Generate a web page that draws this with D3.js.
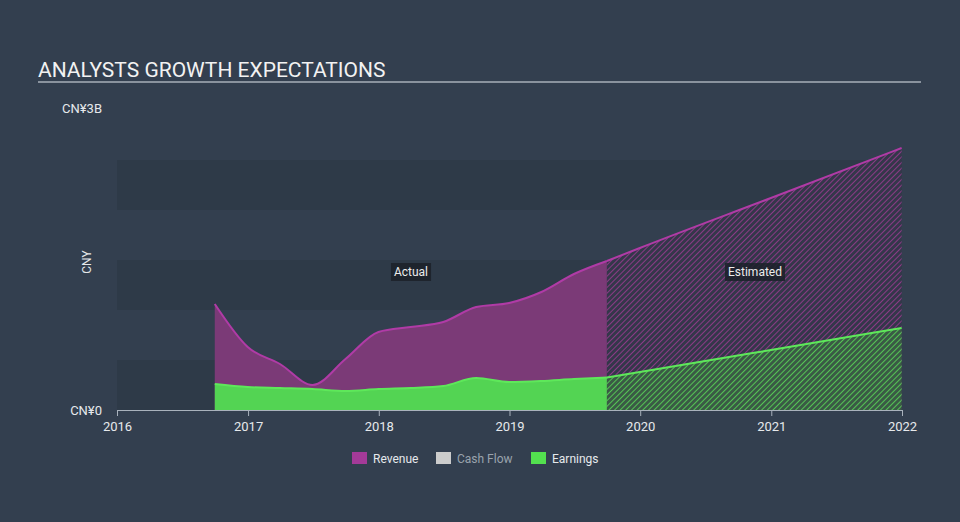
<!DOCTYPE html>
<html><head><meta charset="utf-8">
<script src="https://cdn.jsdelivr.net/npm/d3@7"></script>
<style>
html,body{margin:0;padding:0;background:#333f4f;}
svg{display:block;font-family:Roboto,"Noto Sans",sans-serif;}
</style></head>
<body>
<svg id="chart" width="960" height="522"></svg>
<script>
// Data (values in CNY billions)
const actualDates = ["2016-09-30","2016-12-31","2017-03-31","2017-06-30","2017-09-30","2017-12-31","2018-03-31","2018-06-30","2018-09-30","2018-12-31","2019-03-31","2019-06-30","2019-09-30"];
const actualRevenue = [1.06,0.63,0.46,0.25,0.51,0.78,0.83,0.88,1.03,1.07,1.18,1.36,1.49];
const actualEarnings = [0.26,0.23,0.22,0.21,0.19,0.21,0.22,0.24,0.32,0.28,0.29,0.31,0.325];
const estDates = ["2019-09-30","2019-12-31","2020-12-31","2021-12-31"];
const estRevenue = [1.49,1.62,2.12,2.62];
const estEarnings = [0.325,0.38,0.60,0.82];
const xTicks = [2016,2017,2018,2019,2020,2021,2022];
const yTickLabels = ["CN¥0","CN¥3B"];
const legendItems = ["Revenue","Cash Flow","Earnings"];

const svg=d3.select("#chart");
const parse=d3.timeParse("%Y-%m-%d");
const x=d3.scaleTime().domain([new Date(2016,0,1),new Date(2022,0,1)]).range([117,902]);
const y=d3.scaleLinear().domain([0,3]).range([410,110]);

const revColor="#b03ba6", revFill="#7b3a77", earnColor="#5ee85a", earnFill="#53d453";

// bands (only the darker ones are visible)
const bandVals=[0,1,2];
svg.selectAll("rect.band").data(bandVals).enter().append("rect")
  .attr("x",x.range()[0]).attr("width",x.range()[1]-x.range()[0])
  .attr("y",d=>y(d+0.5)).attr("height",d=>y(d)-y(d+0.5))
  .attr("fill","#2e3a48");

// patterns
const defs=svg.append("defs");
function hatch(id,color,bg){
  const p=defs.append("pattern").attr("id",id).attr("patternUnits","userSpaceOnUse")
    .attr("width",4).attr("height",4).attr("patternTransform","rotate(45)");
  p.append("rect").attr("width",4).attr("height",4).attr("fill",bg);
  p.append("line").attr("x1",0).attr("y1",0).attr("x2",0).attr("y2",4).attr("stroke",color).attr("stroke-width",2);
}
hatch("hRev","#8b3a86","#34374a");
hatch("hEarn","#55c455","#3a5a45");

const act=actualDates.map((d,i)=>({d:parse(d),r:actualRevenue[i],e:actualEarnings[i]}));
const est=estDates.map((d,i)=>({d:parse(d),r:estRevenue[i],e:estEarnings[i]}));

const curve=d3.curveMonotoneX;
const area=(k)=>d3.area().x(d=>x(d.d)).y0(y(0)).y1(d=>y(d[k])).curve(curve);
const line=(k)=>d3.line().x(d=>x(d.d)).y(d=>y(d[k])).curve(curve);

svg.append("path").datum(act).attr("d",area("r")).attr("fill",revFill);
svg.append("path").datum(est).attr("d",area("r")).attr("fill","url(#hRev)");
svg.append("path").datum(act).attr("d",area("e")).attr("fill",earnFill);
svg.append("path").datum(est).attr("d",area("e")).attr("fill","url(#hEarn)");
[act,est].forEach(ds=>{
  svg.append("path").datum(ds).attr("d",line("r")).attr("fill","none").attr("stroke",revColor).attr("stroke-width",2);
  svg.append("path").datum(ds).attr("d",line("e")).attr("fill","none").attr("stroke",earnColor).attr("stroke-width",2);
});

// x axis
const xAxis=d3.axisBottom(x).tickValues(xTicks.map(t=>new Date(t,0,1))).tickFormat(d3.timeFormat("%Y")).tickSizeOuter(0).tickSize(6);
const gx=svg.append("g").attr("transform","translate(0,410)").call(xAxis);
gx.select(".domain").attr("stroke","#a9b2bc");
gx.selectAll(".tick line").attr("stroke","#a9b2bc");
gx.selectAll(".tick text").attr("fill","#e6e9ec").attr("font-size",13).attr("dy","0.9em").attr("font-family","Roboto,sans-serif");

// y labels
svg.selectAll("text.ylab").data([0,3]).enter().append("text")
  .attr("x",102).attr("y",d=>d===0?y(d)+4.5:y(d)+2.5).attr("text-anchor","end")
  .attr("fill","#e6e9ec").attr("font-size",13).text((d,i)=>yTickLabels[i]);
svg.append("text").attr("transform","translate(91,262) rotate(-90)").attr("text-anchor","middle")
  .attr("fill","#e6e9ec").attr("font-size",12).text("CNY");

// title
svg.append("text").attr("x",38).attr("y",77).attr("fill","#f2f2f2").attr("font-size",21).text("ANALYSTS GROWTH EXPECTATIONS");
svg.append("line").attr("x1",38).attr("x2",921).attr("y1",82).attr("y2",82).attr("stroke","#a8b0b8").attr("stroke-width",1.5);

// actual / estimated labels
function tag(cx,cy,t){
  const g=svg.append("g");
  const tx=g.append("text").attr("x",cx).attr("y",cy+4).attr("text-anchor","middle").attr("fill","#ececec").attr("font-size",12).text(t);
  const b=tx.node().getBBox();
  g.insert("rect","text").attr("x",b.x-3).attr("y",cy-9).attr("width",b.width+6).attr("height",18).attr("fill","#1b2129").attr("opacity",0.85);
}
tag(411,272,"Actual");
tag(755,272,"Estimated");

// legend
const legColors=["#a43a98","#cccccc","#53e04f"];
const legX=[352,436,531];
const legTextColors=["#e6e9ec","#9aa3ad","#e6e9ec"];
const lg=svg.selectAll("g.leg").data(legendItems).enter().append("g").attr("transform",(d,i)=>`translate(${legX[i]},452)`);
lg.append("rect").attr("width",15).attr("height",12).attr("fill",(d,i)=>legColors[i]);
lg.append("text").attr("x",21).attr("y",10.5).attr("font-size",12).attr("fill",(d,i)=>legTextColors[i]).text(d=>d);
</script>
</body></html>
